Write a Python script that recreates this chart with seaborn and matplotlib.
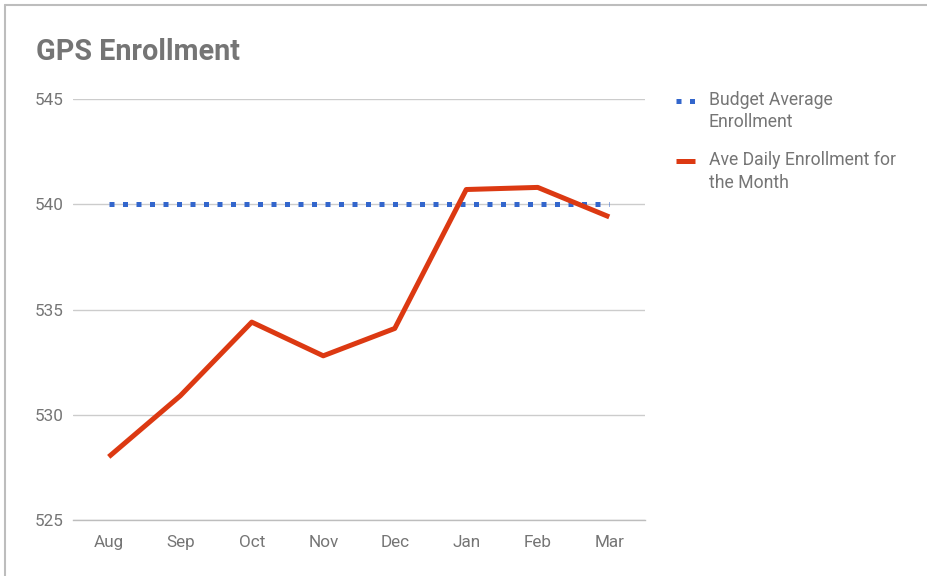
import matplotlib
matplotlib.use("Agg")
import matplotlib.pyplot as plt
import seaborn as sns
import pandas as pd
import numpy as np
from matplotlib.lines import Line2D
from matplotlib.legend_handler import HandlerLine2D

months = ["Aug", "Sep", "Oct", "Nov", "Dec", "Jan", "Feb", "Mar"]
budget_avg = [540, 540, 540, 540, 540, 540, 540, 540]
ave_daily = [528.0, 530.9, 534.4, 532.8, 534.1, 540.7, 540.8, 539.4]
y_ticks = [525, 530, 535, 540, 545]

sns.set_theme(style="white")
plt.rcParams["font.family"] = ["Roboto", "DejaVu Sans"]

df = pd.DataFrame({"Month": months, "Budget": budget_avg, "Daily": ave_daily})

fig = plt.figure(figsize=(9.28, 5.76), dpi=100)
ax = fig.add_axes([73 / 928, 1 - 520 / 576, 572 / 928, 421 / 576])

sns.lineplot(data=df, x="Month", y="Budget", ax=ax, color="#3366CC",
             linewidth=3.6, linestyle=(0, (1, 1.7)), sort=False)
sns.lineplot(data=df, x="Month", y="Daily", ax=ax, color="#DC3912",
             linewidth=3.6, sort=False)
for ln in ax.lines:
    ln.set_dash_capstyle("butt")
    ln.set_solid_capstyle("butt")
    ln.set_clip_on(False)

ax.set_xlim(-0.5, len(months) - 0.5)
ax.set_ylim(min(y_ticks), max(y_ticks))
ax.set_yticks(y_ticks)
ax.set_xlabel("")
ax.set_ylabel("")
ax.grid(axis="y", color="#CCCCCC", linewidth=1)
ax.grid(axis="x", visible=False)
for s in ax.spines.values():
    s.set_visible(False)
ax.spines["bottom"].set_visible(True)
ax.spines["bottom"].set_color("#BDBDBD")
ax.spines["bottom"].set_linewidth(1)
ax.tick_params(axis="y", length=0, pad=7, labelsize=12.3, labelcolor="#757575")
ax.tick_params(axis="x", length=0, pad=11, labelsize=12.3, labelcolor="#757575")

fig.text(36 / 928, 1 - 52 / 576, "GPS Enrollment", fontsize=20.7, fontweight="bold",
         color="#757575", va="center", ha="left")


class TopLineHandler(HandlerLine2D):
    def __init__(self, dy=0.0, **kw):
        super().__init__(**kw)
        self.dy = dy

    def create_artists(self, legend, orig_handle, xdescent, ydescent, width,
                       height, fontsize, trans):
        arts = super().create_artists(legend, orig_handle, xdescent, ydescent,
                                      width, height, fontsize, trans)
        for a in arts:
            a.set_ydata(np.asarray(a.get_ydata(), dtype=float) + self.dy * fontsize)
        return arts


handles = [Line2D([], [], color="#3366CC", linewidth=3.6, linestyle=(0, (1, 1.7)),
                  dash_capstyle="butt"),
           Line2D([], [], color="#DC3912", linewidth=3.6, solid_capstyle="butt")]
labels = ["Budget Average\nEnrollment", "Ave Daily Enrollment for\nthe Month"]
leg = fig.legend(handles, labels, loc="upper left",
                 bbox_to_anchor=(676 / 928, 1 - 91 / 576), frameon=False,
                 fontsize=12.7, labelcolor="#757575", handlelength=1.05,
                 handletextpad=0.8, labelspacing=1.14, borderaxespad=0,
                 borderpad=0,
                 handler_map={Line2D: TopLineHandler(dy=0.63)})
for t in leg.get_texts():
    t.set_linespacing(1.3)

# screenshot frame
fig.add_artist(Line2D([5 / 928, 5 / 928], [0, 1 - 5 / 576], color="#BDBDBD",
                      linewidth=1.5, transform=fig.transFigure))
fig.add_artist(Line2D([5 / 928, 1], [1 - 5 / 576, 1 - 5 / 576], color="#BDBDBD",
                      linewidth=1.5, transform=fig.transFigure))

fig.savefig("out.png", dpi=100)
